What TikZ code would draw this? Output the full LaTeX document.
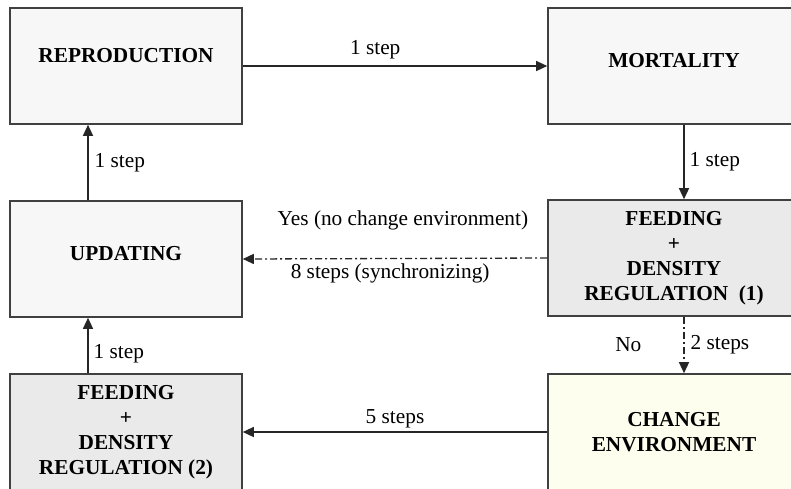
\documentclass[tikz,border=0pt]{standalone}
\usepackage{fontspec}
\setmainfont{Liberation Serif}
\usetikzlibrary{arrows.meta}
\definecolor{boxline}{HTML}{404040}
\definecolor{lightfill}{HTML}{F7F7F7}
\definecolor{grayfill}{HTML}{EAEAEA}
\definecolor{yellowfill}{HTML}{FEFEEE}
\newcommand{\upby}[2]{\raisebox{#1}{#2}}
\tikzset{
  box/.style={draw=boxline, line width=1.6pt, minimum height=116pt, align=center,
    font=\fontsize{21.3}{25}\selectfont\bfseries, inner sep=0pt},
  narrow/.style={minimum width=232pt},
  wide/.style={minimum width=252pt},
  conn/.style={line width=1.3pt, draw=black!85, -{Triangle[length=11pt,width=10pt]}},
  dashconn/.style={conn, dash pattern=on 7pt off 3pt on 2pt off 3pt},
  lbl/.style={font=\fontsize{21.3}{24}\selectfont, inner sep=2pt}
}
\begin{document}
\begin{tikzpicture}[x=1pt,y=-1pt]
\clip (0,0) rectangle (791,488);
\fill[white] (0,0) rectangle (791,488);
\node[box,narrow,fill=lightfill] (repro) at (126,66) {\upby{22pt}{REPRODUCTION}};
\node[box,wide,fill=lightfill] (mort) at (674,66) {\upby{12pt}{MORTALITY}};
\node[box,narrow,fill=lightfill] (upd) at (126,259) {\upby{12pt}{UPDATING}};
\node[box,wide,fill=grayfill] (feed1) at (674,258) {FEEDING\\+\\DENSITY\\REGULATION\ \ (1)};
\node[box,narrow,fill=grayfill] (feed2) at (126,432) {FEEDING\\+\\DENSITY\\REGULATION (2)};
\node[box,wide,fill=yellowfill] (change) at (674,432) {CHANGE\\ENVIRONMENT};

\draw[conn] (repro.east) -- node[lbl, pos=0.435, above=4pt] {1 step} (mort.west);
\draw[conn] ([xshift=10pt]mort.south) -- node[lbl, midway, right=3pt] {1 step} ([xshift=10pt]feed1.north);
\draw[dashconn] (feed1.west) --
  node[lbl, pos=0.474, above=26pt] {Yes (no change environment)}
  node[lbl, pos=0.516, below=3pt] {8 steps (synchronizing)} (upd.east);
\draw[dashconn] ([xshift=10pt]feed1.south) --
  node[lbl, midway, left=40pt] {No}
  node[lbl, midway, right=4pt] {2 steps} ([xshift=10pt]change.north);
\draw[conn] (change.west) -- node[lbl, midway, above=1pt] {5 steps} (feed2.east);
\draw[conn] ([xshift=-38pt]feed2.north) -- node[lbl, pos=0.36, right=3pt] {1 step} ([xshift=-38pt]upd.south);
\draw[conn] ([xshift=-38pt]upd.north) -- node[lbl, midway, right=4pt] {1 step} ([xshift=-38pt]repro.south);
\end{tikzpicture}
\end{document}
